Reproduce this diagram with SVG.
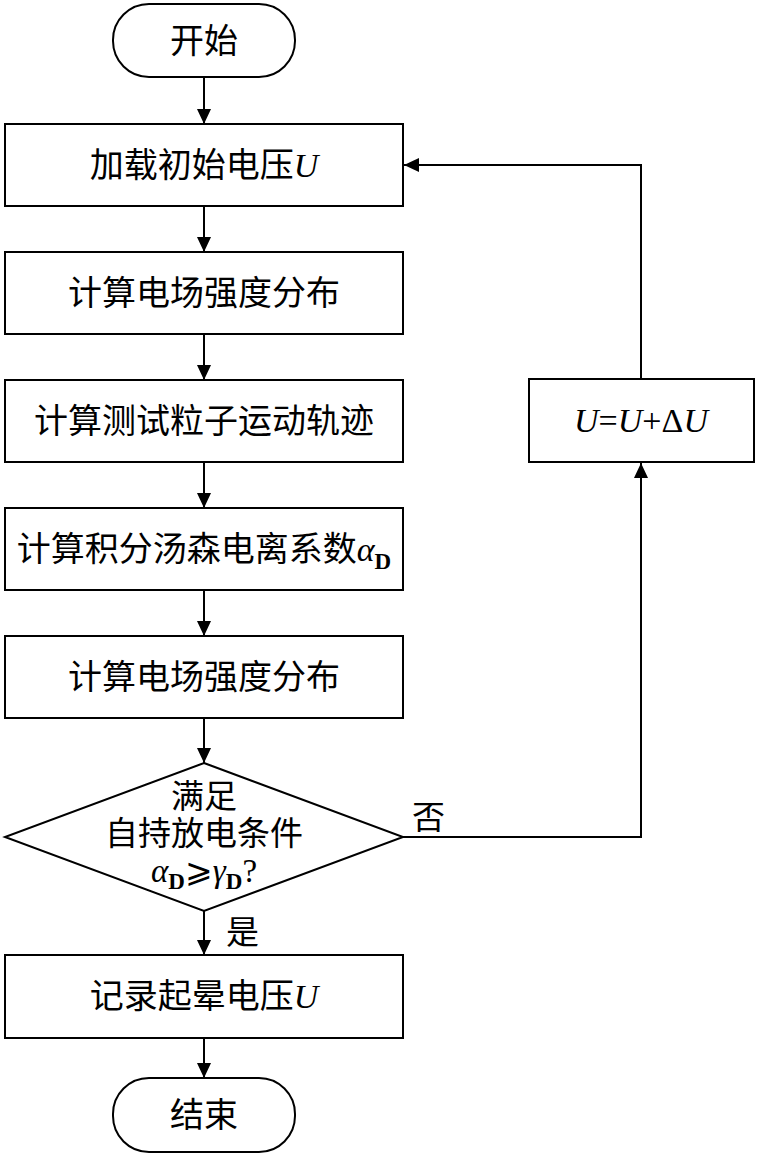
<svg xmlns="http://www.w3.org/2000/svg" width="759" height="1155" viewBox="0 0 759 1155">
<defs>
<marker id="arr" markerUnits="userSpaceOnUse" markerWidth="16" markerHeight="14" refX="15" refY="7" orient="auto">
<path d="M0,0 L15,7 L0,14 z" fill="#000"/>
</marker>
<style>
.box{fill:#fff;stroke:#000;stroke-width:2}
.cn{font-family:"Noto Sans CJK SC","Noto Sans CJK JP",sans-serif;font-size:34px;fill:#000}
.dm{font-family:"Liberation Serif","Noto Sans CJK SC","Noto Sans CJK JP",serif;font-size:33px}
.m{font-family:"Liberation Serif","DejaVu Serif",serif;font-style:italic}
.r{font-family:"Liberation Serif","DejaVu Serif",serif;font-style:normal}
.sub{font-family:"Liberation Serif","DejaVu Serif",serif;font-style:normal;font-size:23px;font-weight:bold}
.ln{fill:none;stroke:#000;stroke-width:2}
</style>
</defs>
<rect width="759" height="1155" fill="#fff"/>
<g id="connectors">
<line class="ln" x1="204" y1="77" x2="204" y2="124" marker-end="url(#arr)"/>
<line class="ln" x1="204" y1="206" x2="204" y2="252" marker-end="url(#arr)"/>
<line class="ln" x1="204" y1="334" x2="204" y2="380" marker-end="url(#arr)"/>
<line class="ln" x1="204" y1="462" x2="204" y2="508" marker-end="url(#arr)"/>
<line class="ln" x1="204" y1="590" x2="204" y2="636" marker-end="url(#arr)"/>
<line class="ln" x1="204" y1="718" x2="204" y2="763" marker-end="url(#arr)"/>
<line class="ln" x1="204" y1="911" x2="204" y2="955" marker-end="url(#arr)"/>
<line class="ln" x1="204" y1="1038" x2="204" y2="1078" marker-end="url(#arr)"/>
<polyline class="ln" points="403,837 641,837 641,463" marker-end="url(#arr)"/>
<polyline class="ln" points="641,379 641,165 404,165" marker-end="url(#arr)"/>
<text class="cn dm" x="412" y="829">否</text>
<text class="cn dm" x="226" y="944">是</text>
</g>
<g id="start">
<rect class="box" x="113" y="4" width="182" height="73" rx="36" ry="36"/>
<text class="cn" x="204" y="53" text-anchor="middle">开始</text>
</g>
<g id="load">
<rect class="box" x="5" y="124" width="398" height="82"/>
<text class="cn" x="204" y="177" text-anchor="middle">加载初始电压<tspan class="m">U</tspan></text>
</g>
<g id="field1">
<rect class="box" x="5" y="252" width="398" height="82"/>
<text class="cn" x="204" y="305" text-anchor="middle">计算电场强度分布</text>
</g>
<g id="trajectory">
<rect class="box" x="5" y="380" width="398" height="82"/>
<text class="cn" x="204" y="433" text-anchor="middle">计算测试粒子运动轨迹</text>
</g>
<g id="townsend">
<rect class="box" x="5" y="508" width="398" height="82"/>
<text class="cn" x="204" y="561" text-anchor="middle">计算积分汤森电离系数<tspan class="m">α</tspan><tspan class="sub" dy="8">D</tspan></text>
</g>
<g id="field2">
<rect class="box" x="5" y="636" width="398" height="82"/>
<text class="cn" x="204" y="689" text-anchor="middle">计算电场强度分布</text>
</g>
<g id="decision">
<polygon class="box" points="204,763 403,837 204,911 5,837"/>
<text class="cn dm" x="204" y="808" text-anchor="middle">满足</text>
<text class="cn dm" x="204" y="845" text-anchor="middle">自持放电条件</text>
<text class="cn dm" x="204" y="882" text-anchor="middle"><tspan class="m">α</tspan><tspan class="sub" dy="7">D</tspan><tspan class="r" dy="-7">⩾</tspan><tspan class="m">γ</tspan><tspan class="sub" dy="7">D</tspan><tspan class="r" dy="-7">?</tspan></text>
</g>
<g id="increase">
<rect class="box" x="529" y="379" width="225" height="83"/>
<text class="cn" x="641" y="432" text-anchor="middle"><tspan class="m">U</tspan><tspan class="r">=</tspan><tspan class="m">U</tspan><tspan class="r">+Δ</tspan><tspan class="m">U</tspan></text>
</g>
<g id="record">
<rect class="box" x="5" y="955" width="398" height="83"/>
<text class="cn" x="204" y="1008" text-anchor="middle">记录起晕电压<tspan class="m">U</tspan></text>
</g>
<g id="end">
<rect class="box" x="113" y="1078" width="182" height="74" rx="36" ry="36"/>
<text class="cn" x="204" y="1127" text-anchor="middle">结束</text>
</g>
</svg>
